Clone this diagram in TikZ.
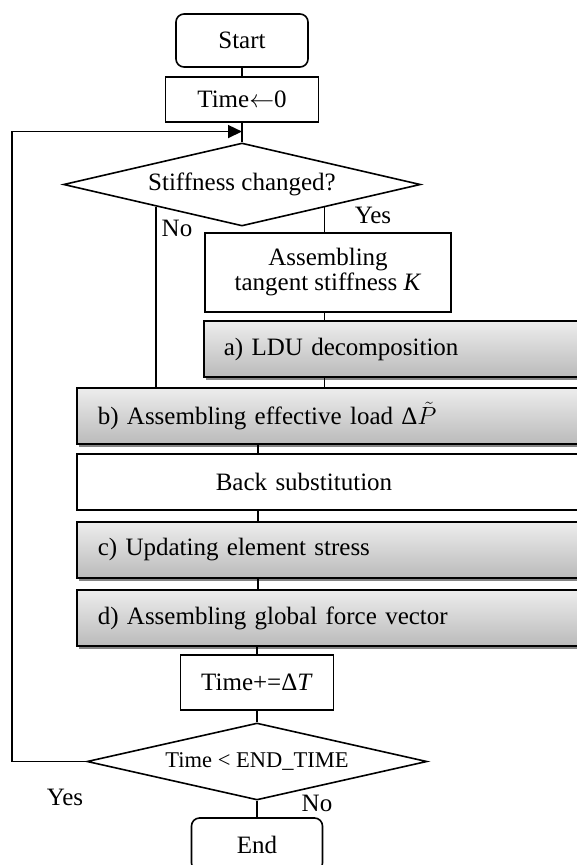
\documentclass[tikz,border=0pt]{standalone}
\usepackage{fontspec}
\setmainfont{Liberation Serif}
\usetikzlibrary{arrows.meta,shapes.geometric,shadows,calc}
\begin{document}
\begin{tikzpicture}[x=1pt,y=-1pt,
  every node/.style={font=\fontsize{25}{25}\selectfont},
  line/.style={line width=1.6pt},
  plainbox/.style={draw,line width=1.6pt,inner sep=0pt,fill=white},
  shbox/.style={draw,line width=1.6pt,inner ysep=0pt,top color=black!7,bottom color=black!27,
    drop shadow={shadow xshift=2pt,shadow yshift=-2.5pt,fill=black!60,opacity=0.8},
    align=left,anchor=west,minimum height=56pt},
  termbox/.style={plainbox,rounded corners=8pt},
  decision/.style={diamond,draw,line width=1.6pt,inner sep=0pt,fill=white},
  lbl/.style={inner sep=0pt}
]
\useasboundingbox (0,0) rectangle (577,865);
\clip (0,0) rectangle (577,865);

\node[termbox,minimum width=132pt,minimum height=53pt] (start) at (242,40.5) {Start};
\node[plainbox,minimum width=153pt,minimum height=45pt] (t0) at (242,99.5) {Time$\leftarrow$0};
\node[decision,minimum width=357pt,minimum height=83pt,aspect=4.3] (d1) at (242,184.5) {Stiffness changed?};
\node[plainbox,minimum width=246pt,minimum height=79pt,align=center] (asm) at (328,272.5) {Assembling\\tangent stiffness \textit{K}};
\node[shbox,text width=360pt,inner xsep=20pt] (ldu) at (203,349) {a) LDU decomposition};
\node[shbox,text width=504pt,inner xsep=21pt] (b) at (76,416) {b) Assembling effective load Δ$\tilde{P}$};
\node[plainbox,anchor=west,minimum height=56pt,text width=504pt,inner xsep=21pt,align=left] (back) at (76,482) {\hspace*{118pt}Back substitution};
\node[shbox,text width=504pt,inner xsep=21pt] (c) at (76,550) {c) Updating element stress};
\node[shbox,text width=504pt,inner xsep=21pt] (d) at (76,618) {d) Assembling global force vector};
\node[plainbox,minimum width=153pt,minimum height=55pt] (tp) at (257,682.5) {Time+=Δ\textit{T}};
\node[decision,minimum width=340pt,minimum height=77pt,aspect=4.4,font=\fontsize{22.5}{23}\selectfont] (d2) at (257,761.5) {Time < END\_TIME};
\node[termbox,minimum width=131pt,minimum height=53pt] (end) at (257,844.5) {End};

\node[lbl] (no1) at (177,228) {No};
\node[lbl] (yes1) at (373,215) {Yes};
\node[lbl] (yes2) at (65,797) {Yes};
\node[lbl] (no2) at (317,803) {No};

\coordinate (lc) at (12,0);
\coordinate (mx) at (258,0);
\coordinate (j1) at ($(t0.south)!0.45!(d1.north)$);
\coordinate (nostart) at ($(d1.west)!0.52!(d1.south)$);
\coordinate (yesstart) at ($(d1.south)!0.46!(d1.east)$);

\draw[line] (start.south) -- (t0.north);
\draw[line] (t0.south) -- (d1.north);
\draw[line,-{Triangle[length=14pt,width=13pt]}] (d2.west) -- (d2.west -| lc) -- (lc |- j1) -- (j1);
\draw[line] (nostart) -- (nostart |- b.north);
\draw[line] (yesstart) -- (yesstart |- asm.north);
\draw[line] (yesstart |- asm.south) -- (yesstart |- ldu.north);
\draw[line] (yesstart |- ldu.south) -- (yesstart |- b.north);
\draw[line] (mx |- b.south) -- (mx |- back.north);
\draw[line] (mx |- back.south) -- (mx |- c.north);
\draw[line] (mx |- c.south) -- (mx |- d.north);
\draw[line] (tp.north |- d.south) -- (tp.north);
\draw[line] (tp.south) -- (d2.north);
\draw[line] (d2.south) -- (end.north);
\end{tikzpicture}
\end{document}
